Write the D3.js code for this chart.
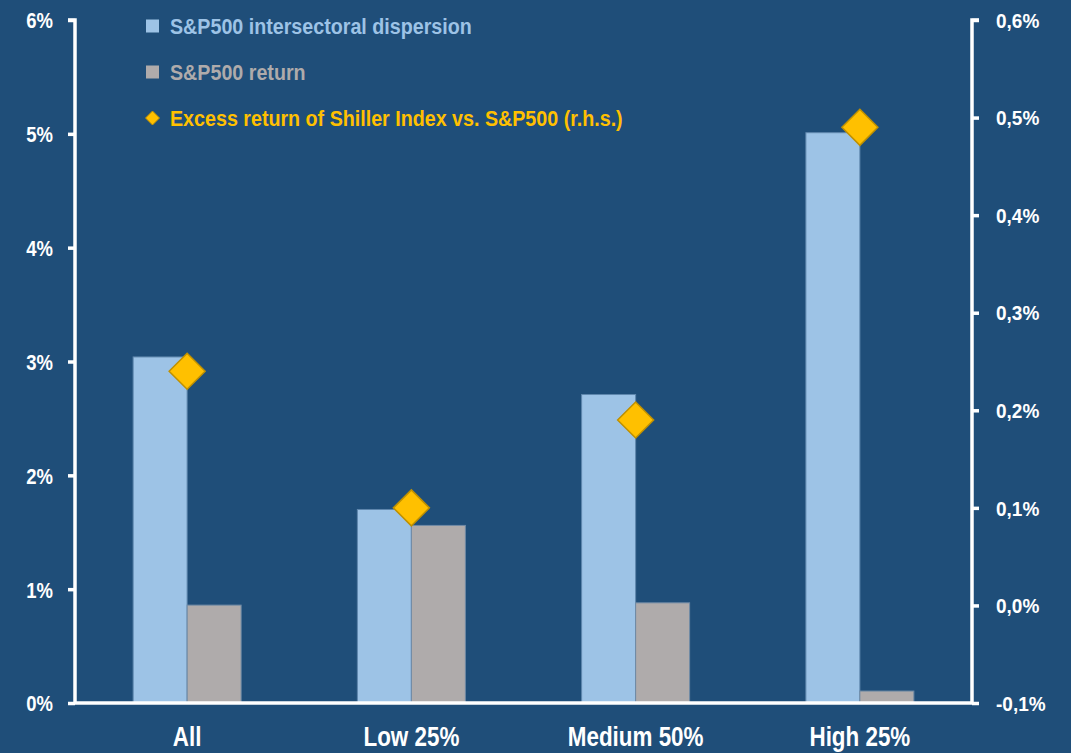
<!DOCTYPE html>
<html>
<head>
<meta charset="utf-8">
<script src="https://cdn.jsdelivr.net/npm/d3@7"></script>
<style>
  html, body { margin: 0; padding: 0; background: #1F4E79; }
  svg { display: block; }
  text { font-family: "Liberation Sans", Arial, sans-serif; font-weight: bold; }
</style>
</head>
<body>
<svg id="chart" width="1071" height="753"></svg>
<script>
const categories = ["All", "Low 25%", "Medium 50%", "High 25%"];
const dispersion = [3.04, 1.70, 2.71, 5.01];      // % left axis
const spReturn = [0.86, 1.56, 0.88, 0.105];       // % left axis
const excessReturn = [0.24, 0.10, 0.19, 0.49];    // % right axis
const leftTicks = [0, 1, 2, 3, 4, 5, 6];
const rightTicks = [-0.1, 0.0, 0.1, 0.2, 0.3, 0.4, 0.5, 0.6];
const legendLabels = ["S&P500 intersectoral dispersion", "S&P500 return", "Excess return of Shiller Index vs. S&P500 (r.h.s.)"];

const colors = { bg: "#1F4E79", disp: "#9DC3E6", ret: "#AFABAB", diamond: "#FFC000", diamondStroke: "#BF9000", axis: "#FFFFFF" };

const svg = d3.select("#chart");
const W = 1071, H = 753;
svg.append("rect").attr("width", W).attr("height", H).attr("fill", colors.bg);

const plot = { left: 75, right: 972, top: 20, bottom: 703 };

const x = d3.scaleBand().domain(categories).range([plot.left, plot.right]).padding(0);
const yL = d3.scaleLinear().domain([0, 6]).range([plot.bottom, plot.top]);
const yR = d3.scaleLinear().domain([-0.1, 0.6]).range([plot.bottom, plot.top]);
const barW = x.bandwidth() * 0.2408;

// horizontally condense text (source font is a narrow face)
function condense(sel, s) {
  sel.each(function () {
    const t = d3.select(this);
    const x0 = +t.attr("x") || 0;
    t.attr("x", 0).attr("transform", `translate(${x0},0) scale(${s},1)`);
  });
}

// bars
const g = svg.append("g");
g.selectAll("rect.disp").data(categories).enter().append("rect")
  .attr("class", "disp")
  .attr("x", d => x(d) + x.bandwidth() / 2 - barW)
  .attr("width", barW)
  .attr("y", (d, i) => yL(dispersion[i]))
  .attr("height", (d, i) => yL(0) - yL(dispersion[i]))
  .attr("fill", colors.disp)
  .attr("stroke", "#5f87ad").attr("stroke-width", 1);

g.selectAll("rect.ret").data(categories).enter().append("rect")
  .attr("class", "ret")
  .attr("x", d => x(d) + x.bandwidth() / 2)
  .attr("width", barW)
  .attr("y", (d, i) => yL(spReturn[i]))
  .attr("height", (d, i) => yL(0) - yL(spReturn[i]))
  .attr("fill", colors.ret)
  .attr("stroke", "#6f8aa5").attr("stroke-width", 1);

// axes
const leftAxis = d3.axisLeft(yL).tickValues(leftTicks).tickFormat(d => d + "%").tickSize(7).tickPadding(15);
const la = svg.append("g").attr("transform", `translate(${plot.left},0)`).call(leftAxis);
la.select(".domain").attr("stroke", colors.axis).attr("stroke-width", 3.5).attr("d", `M-7,${plot.top}H0V${plot.bottom}`);
la.selectAll(".tick line").attr("stroke", colors.axis).attr("stroke-width", 3.5);
la.selectAll(".tick text").attr("fill", colors.axis).style("font-size", "22px").attr("dy", "0.36em");
condense(la.selectAll(".tick text"), 0.84);

const rightAxis = d3.axisRight(yR).tickValues(rightTicks).tickFormat(d => d3.format(".1f")(d).replace(".", ",").replace("−", "-") + "%").tickSize(7).tickPadding(17);
const ra = svg.append("g").attr("transform", `translate(${plot.right},0)`).call(rightAxis);
ra.select(".domain").attr("stroke", colors.axis).attr("stroke-width", 3.5).attr("d", `M7,${plot.top}H0V${plot.bottom}`);
ra.selectAll(".tick line").attr("stroke", colors.axis).attr("stroke-width", 3.5);
ra.selectAll(".tick text").attr("fill", colors.axis).style("font-size", "20px").attr("dy", "0.36em");
condense(ra.selectAll(".tick text"), 0.95);

const bottomAxis = d3.axisBottom(x).tickSize(0).tickPadding(24);
const ba = svg.append("g").attr("transform", `translate(0,${plot.bottom})`).call(bottomAxis);
ba.select(".domain").attr("stroke", colors.axis).attr("stroke-width", 3.5).attr("d", `M${plot.left},0H${plot.right}`);
ba.selectAll(".tick text").attr("fill", colors.axis).style("font-size", "27px");
condense(ba.selectAll(".tick text"), 0.83);

// diamonds
const dsize = 18;
const diamondPath = s => `M0,${-s}L${s},0L0,${s}L${-s},0Z`;
svg.append("g").selectAll("path").data(categories).enter().append("path")
  .attr("d", diamondPath(dsize))
  .attr("transform", (d, i) => `translate(${x(d) + x.bandwidth() / 2},${yR(excessReturn[i])})`)
  .attr("fill", colors.diamond).attr("stroke", colors.diamondStroke).attr("stroke-width", 1.5);

// legend
const leg = svg.append("g");
const legY = [26, 72, 118];
const legColors = [colors.disp, colors.ret, colors.diamond];
legendLabels.forEach((lab, i) => {
  if (i < 2) {
    leg.append("rect").attr("x", 146).attr("y", legY[i] - 6.5).attr("width", 13).attr("height", 13).attr("fill", legColors[i]);
  } else {
    leg.append("path").attr("d", diamondPath(7)).attr("transform", `translate(152.5,${legY[i]})`)
      .attr("fill", colors.diamond).attr("stroke", colors.diamondStroke).attr("stroke-width", 1);
  }
  const t = leg.append("text").attr("x", 170).attr("y", legY[i]).attr("dy", "0.36em")
    .attr("fill", legColors[i]).style("font-size", "22px").text(lab);
  condense(t, 0.895);
});
</script>
</body>
</html>
